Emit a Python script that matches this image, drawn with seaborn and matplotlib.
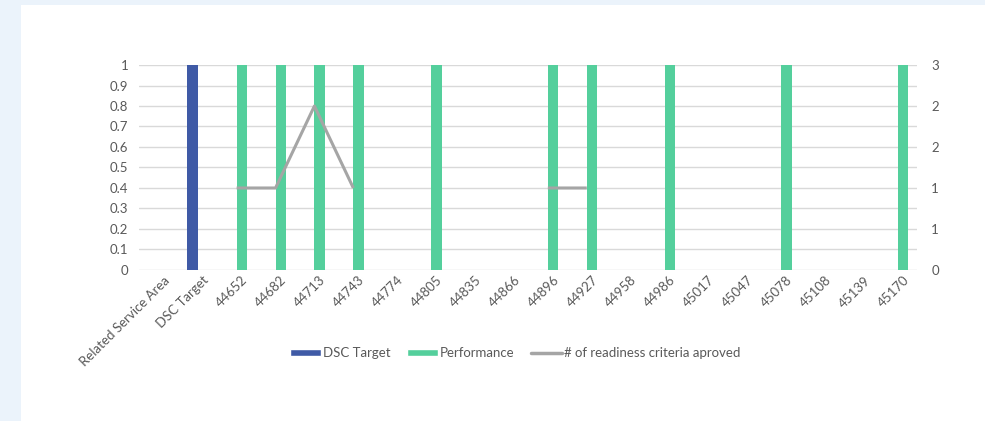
import numpy as np
import pandas as pd
import seaborn as sns
import matplotlib
matplotlib.use('Agg')
import matplotlib.pyplot as plt
from matplotlib.patches import Rectangle, Patch
from matplotlib.lines import Line2D
import matplotlib.transforms as mtransforms

# categories on the x axis (Excel date serials shown as numbers)
categories = ['Related Service Area', 'DSC Target', '44652', '44682', '44713', '44743',
              '44774', '44805', '44835', '44866', '44896', '44927', '44958', '44986',
              '45017', '45047', '45078', '45108', '45139', '45170']
dsc_target = [np.nan, 1, np.nan, np.nan, np.nan, np.nan, np.nan, np.nan, np.nan, np.nan,
              np.nan, np.nan, np.nan, np.nan, np.nan, np.nan, np.nan, np.nan, np.nan, np.nan]
performance = [np.nan, np.nan, 1, 1, 1, 1, np.nan, 1, np.nan, np.nan,
               1, 1, np.nan, 1, np.nan, np.nan, 1, np.nan, np.nan, 1]
readiness = [np.nan, np.nan, 1, 1, 2, 1, np.nan, np.nan, np.nan, np.nan,
             1, 1, np.nan, np.nan, np.nan, np.nan, np.nan, np.nan, np.nan, np.nan]
series_names = ['DSC Target', 'Performance']
line_name = '# of readiness criteria aproved'

BLUE = '#3F5AA6'
GREEN = '#54CF9C'
GREY = '#A5A5A5'
TEXT = '#595959'
GRID = '#D9D9D9'

sns.set_style('white')
plt.rcParams['font.family'] = ['Lato', 'DejaVu Sans']

df = pd.DataFrame({'cat': categories * 2,
                   'series': [series_names[0]] * len(categories) + [series_names[1]] * len(categories),
                   'value': dsc_target + performance})

fig = plt.figure(figsize=(9.85, 4.21), dpi=100, facecolor='#EBF3FB')
fig.patches.append(Rectangle((21 / 985, 0), 1 - 21 / 985, 416 / 421, transform=fig.transFigure,
                             facecolor='white', edgecolor='none', zorder=-5))
ax = fig.add_axes([0.1415, 0.3587, 0.7899, 0.4869])
ax.set_facecolor('none')

sns.barplot(data=df, x='cat', y='value', hue='series', hue_order=series_names, order=categories,
            palette=[BLUE, GREEN], saturation=1, width=0.54, gap=0, dodge=True, errorbar=None,
            linewidth=0, legend=False, ax=ax, zorder=3)

ax.set_ylim(0, 1)
ax.set_yticks(np.arange(0, 1.01, 0.1))
ax.set_yticklabels(['0'] + ['%.1f' % v for v in np.arange(0.1, 0.95, 0.1)] + ['1'])
ax.yaxis.grid(True, color=GRID, lw=1, zorder=0)
ax.set_axisbelow(True)
ax.set_xlim(-0.5, len(categories) - 0.5)
ax.set_xlabel('')
ax.set_ylabel('')
for s in ax.spines.values():
    s.set_visible(False)
ax.tick_params(axis='y', length=0, pad=8, labelsize=9.5, labelcolor=TEXT)
ax.tick_params(axis='x', length=0, pad=6, labelsize=9.5, labelcolor=TEXT)
offset = mtransforms.ScaledTranslation(9 / 100, 0, fig.dpi_scale_trans)
for lab in ax.get_xticklabels():
    lab.set_rotation(45)
    lab.set_ha('right')
    lab.set_va('center')
    lab.set_rotation_mode('anchor')
    lab.set_transform(lab.get_transform() + offset)

# secondary axis for readiness line
ax2 = ax.twinx()
ax2.plot(np.arange(len(categories)), readiness, color=GREY, lw=2.2, solid_capstyle='butt', zorder=4)
ax2.set_ylim(0, 2.5)
ax2.set_yticks(np.arange(0, 2.51, 0.5))
ax2.set_yticklabels([str(int(np.floor(v + 0.5))) for v in np.arange(0, 2.51, 0.5)])
ax2.tick_params(axis='y', length=0, pad=10, labelsize=9.5, labelcolor=TEXT)
for s in ax2.spines.values():
    s.set_visible(False)

handles = [Patch(facecolor=BLUE), Patch(facecolor=GREEN), Line2D([], [], color=GREY, lw=2.5)]
fig.legend(handles, series_names + [line_name], loc='center', bbox_to_anchor=(0.523, 0.161),
           ncol=3, frameon=False, fontsize=9.5, labelcolor=TEXT, handlelength=2.3,
           handleheight=0.5, handletextpad=0.15, columnspacing=1.3)

fig.savefig('out.png', dpi=100, facecolor=fig.get_facecolor())
